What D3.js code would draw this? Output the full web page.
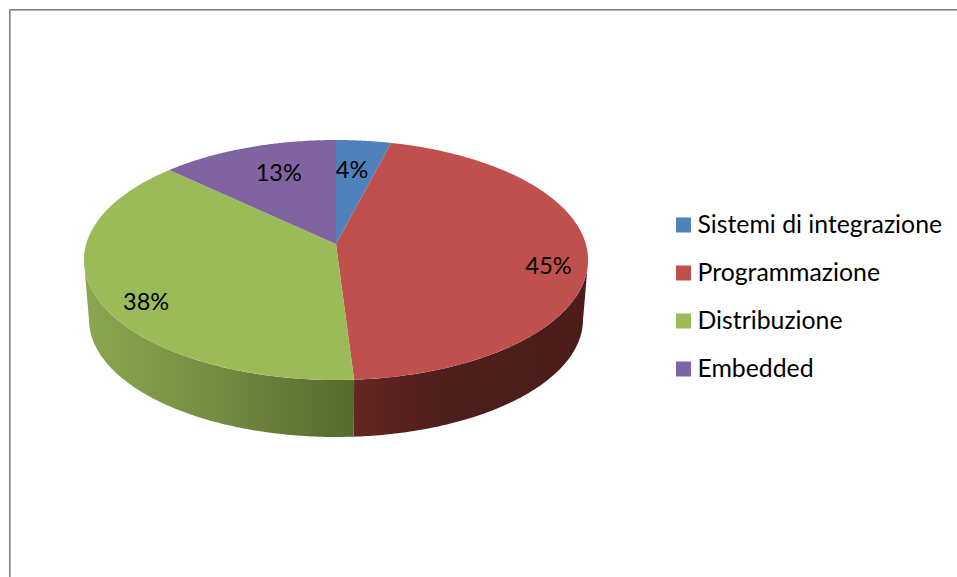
<!DOCTYPE html>
<html>
<head>
<meta charset="utf-8">
<script src="https://cdn.jsdelivr.net/npm/d3@7"></script>
<style>
  html, body { margin: 0; padding: 0; background: #fff; }
  svg { display: block; }
  text { font-family: Lato, "Open Sans", sans-serif; fill: #000; }
</style>
</head>
<body>
<div id="chart"></div>
<script>
const categories = ['Sistemi di integrazione', 'Programmazione', 'Distribuzione', 'Embedded']
const shares = [4, 45, 38, 13]
const colors = ['#4f81bd', '#c0504d', '#9bbb59', '#8064a2']

const width = 957
const height = 577

// pie tilted in perspective: homography of the unit disc
const cx = 336
const radius = 249.8
const persp = -0.1333
const yScale = 85.33
const yApex = 244

// the bottom rim is the top rim, a bit smaller and pushed down
const rimScale = 0.98
const rimCy = 260
const rimDrop = 59.4

// only this part of the wall can be seen (degrees from 12 o'clock)
const wallFrom = 98 * Math.PI / 180
const wallTo = 262 * Math.PI / 180

const labelRadius = [0.66, 0.85, 0.81, 0.68]
const labelNudge = [[-3, -4], [-1, 11], [2, 14], [5, -4]]

const svg = d3
  .select('#chart')
  .append('svg')
  .attr('width', width)
  .attr('height', height)

const defs = svg.append('defs')

function wallGradient(id, x1, x2, stops) {
  const g = defs.append('linearGradient')
    .attr('id', id)
    .attr('gradientUnits', 'userSpaceOnUse')
    .attr('x1', x1).attr('x2', x2)
    .attr('y1', 0).attr('y2', 0)
  stops.forEach(s => g.append('stop').attr('offset', s[0]).attr('stop-color', s[1]))
}
wallGradient('wall1', 354, 588, [[0, '#652623'], [0.4, '#4d1e1c'], [1, '#4a1c1a']])
wallGradient('wall2', 84, 354, [[0, '#8ba750'], [0.5, '#748b41'], [1, '#55692d']])

function topPoint(angle, r) {
  const u = Math.sin(angle) * r
  const v = -Math.cos(angle) * r
  const den = 1 + persp * v
  return [cx + radius * u / den, (yScale * v + yApex) / den]
}

function lowPoint(angle) {
  const p = topPoint(angle, 1)
  return [cx + (p[0] - cx) * rimScale, rimCy + rimDrop + (p[1] - rimCy) * rimScale]
}

const line = d3.line()

function rimAngles(a0, a1) {
  return d3.range(0, 121).map(i => a0 + (a1 - a0) * i / 120)
}

const pie = d3.pie().sort(null).value(d => d)
const slices = pie(shares)

// walls first, the top goes over them
slices.forEach((s, i) => {
  const a0 = Math.max(s.startAngle, wallFrom)
  const a1 = Math.min(s.endAngle, wallTo)
  if (a1 <= a0) return
  const angles = rimAngles(a0, a1)
  const pts = angles.map(a => topPoint(a, 1)).concat(angles.slice().reverse().map(lowPoint))
  svg.append('path')
    .attr('d', line(pts) + 'Z')
    .attr('fill', 'url(#wall' + i + ')')
})

svg.selectAll('.slice')
  .data(slices)
  .enter()
  .append('path')
  .attr('class', 'slice')
  .attr('d', d => {
    const pts = rimAngles(d.startAngle, d.endAngle).map(a => topPoint(a, 1))
    return line([topPoint(0, 0)].concat(pts)) + 'Z'
  })
  .attr('fill', (d, i) => colors[i])

svg.selectAll('.pct')
  .data(slices)
  .enter()
  .append('text')
  .attr('class', 'pct')
  .attr('x', (d, i) => topPoint((d.startAngle + d.endAngle) / 2, labelRadius[i])[0] + labelNudge[i][0])
  .attr('y', (d, i) => topPoint((d.startAngle + d.endAngle) / 2, labelRadius[i])[1] + labelNudge[i][1])
  .attr('text-anchor', 'middle')
  .attr('dominant-baseline', 'central')
  .attr('font-size', 23.5)
  .text(d => d.value + '%')

// legend
const legendY = d3.scalePoint().domain(categories).range([225, 369])

categories.forEach((c, i) => {
  svg.append('rect')
    .attr('x', 676)
    .attr('y', legendY(c) - 7.5)
    .attr('width', 15)
    .attr('height', 15)
    .attr('fill', colors[i])
  svg.append('text')
    .attr('x', 697.5)
    .attr('y', legendY(c) - 2)
    .attr('dominant-baseline', 'central')
    .attr('font-size', 24.8)
    .text(c)
})

// frame, only top and left are in the picture
svg.append('path').attr('d', 'M10,577V10H957').attr('fill', 'none').attr('stroke', '#b5b5b5').attr('stroke-width', 2)
svg.append('path').attr('d', 'M9.5,577V9.5H957').attr('fill', 'none').attr('stroke', '#7f7f7f').attr('stroke-width', 1)
</script>
</body>
</html>
